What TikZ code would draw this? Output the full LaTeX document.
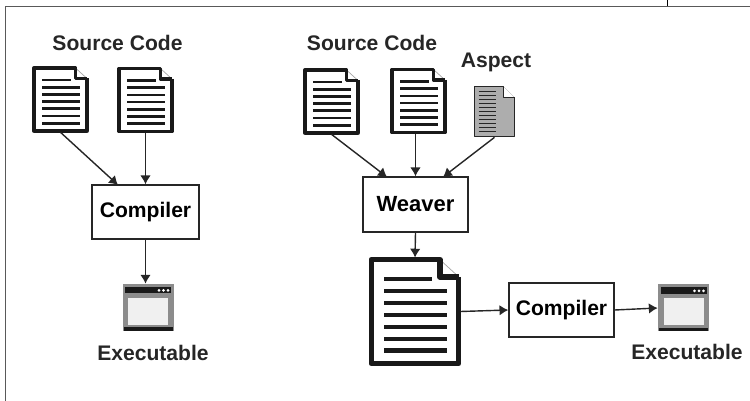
\documentclass[tikz,border=0pt]{standalone}
\usepackage{fontspec}
\usetikzlibrary{arrows.meta}
\setmainfont{Liberation Sans}
\tikzset{
  frameline/.style={draw=black!65,line width=.8pt},
  procbox/.style={draw=black!85,line width=.85pt,fill=white,inner sep=0pt,font=\bfseries\fontsize{12}{14}\selectfont},
  caption/.style={font=\bfseries\fontsize{12}{14}\selectfont,text=black!85},
  flow/.style={-{Latex[length=5pt,width=6pt]},draw=black!85,line width=.8pt},
  iconbound/.style={inner sep=0pt,minimum size=0pt}
}
% #1 name, #2 x, #3 y, #4 scale (55 by 65 at scale 1)
\newcommand{\docicon}[4]{
  \node[iconbound,minimum width=#4*1.1cm,minimum height=#4*1.3cm] (#1) at (#2,#3) {};
  \begin{scope}[shift={(#2,#3)},scale=#4]
    \fill[white] (-26.5,-31.5) -- (15,-31.5) -- (26.5,-21) -- (26.5,31.5) -- (-26.5,31.5) -- cycle;
    \draw[line width=.4pt,draw=black!35] (15,-31.5) -- (26.5,-21);
    \draw[line width=#4*1.9pt,draw=black!90,line join=round] (26.5,-21) -- (26.5,31.5) -- (-26.5,31.5) -- (-26.5,-31.5) -- (15,-31.5) -- (15,-21) -- (26.5,-21);
    \draw[line width=#4*1.5pt,draw=black!90] (-18.5,-19.5) -- (10,-19.5);
    \foreach \ypos in {-12.3,-5.1,2.1,9.3,16.5,23.7}
      \draw[line width=#4*1.5pt,draw=black!90] (-18.5,\ypos) -- (19.5,\ypos);
  \end{scope}
}
% #1 name, #2 x, #3 y
\newcommand{\exeicon}[3]{
  \node[iconbound,minimum width=1.02cm,minimum height=.94cm] (#1) at (#2,#3) {};
  \begin{scope}[shift={(#2,#3)}]
    \fill[black!45] (-25.5,-23.5) rectangle (25.5,23.5);
    \fill[black!90] (-23,-20.5) rectangle (23,-14);
    \fill[black!90] (-24.5,20) rectangle (24.5,23.5);
    \fill[black!6] (-20,-9.5) rectangle (20,17.5);
    \foreach \xpos in {11,15.5,20}
      \fill[white] (\xpos,-17.2) circle (1.5);
  \end{scope}
}
\begin{document}
\begin{tikzpicture}[x=.02cm,y=-.02cm]
\useasboundingbox (0,0) rectangle (750,401);
%page frame
\draw[frameline] (750,6.5) -- (5.5,6.5) -- (5.5,401);
\draw[line width=.6pt] (667.5,0) -- (667.5,6.5);

%plain compile
\node at (117.5,43) [caption] {Source Code};
\docicon{srcA}{60.5}{99.5}{1}
\docicon{srcB}{145.5}{100}{1}
\node[procbox,minimum width=2.14cm,minimum height=1.08cm] (compilerA) at (145.5,212) {Compiler};
\exeicon{exeA}{148}{307.5}
\node at (153,353) [caption] {Executable};
\coordinate (intoA) at (118,185);
\draw[flow] (srcA.south) -- (intoA);
\draw[flow] (srcB.south) -- (compilerA.north);
\draw[flow] (compilerA.south) -- (compilerA.south |- exeA.north);

%with aspect weaving
\node at (372,43) [caption] {Source Code};
\node at (496,62) [caption] {Aspect};
\docicon{srcC}{331.5}{101.5}{1}
\docicon{srcD}{418.5}{101}{1}
\node[iconbound,minimum width=.82cm,minimum height=1.02cm] (aspect) at (494.5,111.5) {};
\begin{scope}[shift={(494.5,111.5)}]
  \fill[black!32] (-20,-25) -- (9,-25) -- (20,-14) -- (20,25) -- (-20,25) -- cycle;
  \fill[white] (9,-24.5) -- (19.5,-14) -- (9,-14) -- cycle;
  \draw[line width=1pt,draw=black!85,line join=round] (20,-14) -- (20,25) -- (-20,25) -- (-20,-25) -- (9,-25) -- (9,-14) -- (20,-14);
  \foreach \ypos in {-20,-16,...,20}
    \draw[line width=1pt,draw=black!85] (-16,\ypos) -- (1.5,\ypos);
\end{scope}
\node[procbox,minimum width=2.1cm,minimum height=1.1cm,font=\bfseries\fontsize{12.5}{14}\selectfont] (weaver) at (415.5,204.5) {Weaver};
\docicon{woven}{415}{311.5}{1.65}
\node[procbox,minimum width=2.1cm,minimum height=1.08cm] (compilerB) at (561.5,310) {Compiler};
\exeicon{exeB}{683.5}{308}
\node at (687,352) [caption] {Executable};
\coordinate (intoL) at (387,177);
\coordinate (intoR) at (443,177);
\draw[flow] (srcC.south) -- (intoL);
\draw[flow] (srcD.south -| weaver.north) -- (weaver.north);
\draw[flow] (aspect.south) -- (intoR);
\draw[flow] (weaver.south) -- (woven.north);
\draw[flow] (woven.east) -- (compilerB.west);
\draw[flow] (compilerB.east) -- (exeB.west);
\end{tikzpicture}
\end{document}
